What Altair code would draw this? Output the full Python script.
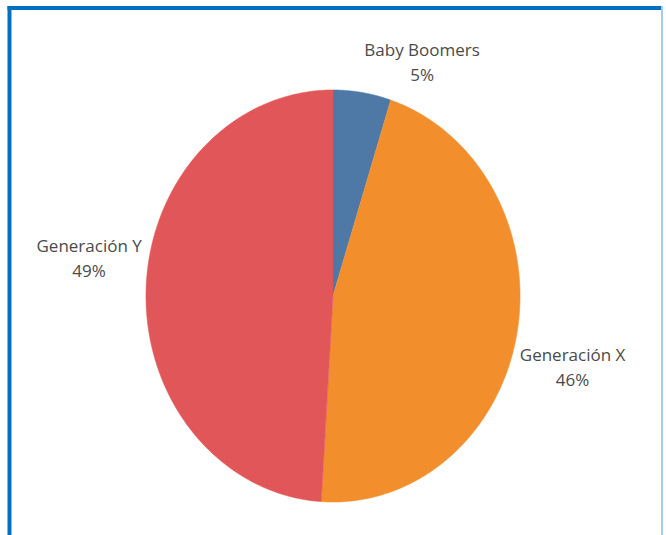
import altair as alt
import pandas as pd

categories = ["Baby Boomers", "Generación X", "Generación Y"]
shares = [5, 46, 49]
order = [1, 2, 3]
colors = ["#4E79A7", "#F28E2B", "#E15759"]

N = 180
df = pd.DataFrame({"cat": categories, "share": shares, "ord": order})
df["label"] = df["cat"] + "\n" + df["share"].astype(str) + "%"
df["steps"] = [list(range(-1, N + 1)) for _ in categories]

CX, CY = 333, 296
cscale = alt.Scale(domain=categories, range=colors)

# elliptical pie (reference is taller than wide) drawn as filled paths
pie = (
    alt.Chart(df)
    .transform_window(cum="sum(share)", sort=[alt.SortField("ord")], frame=[None, 0])
    .transform_joinaggregate(total="sum(share)")
    .transform_flatten(["steps"])
    .transform_calculate(
        frac="((datum.cum - datum.share) + datum.share * max(datum.steps, 0) / %d) / datum.total" % N
    )
    .transform_calculate(
        px="datum.steps < 0 ? 0 : sin(2 * PI * datum.frac)",
        py="datum.steps < 0 ? 0 : cos(2 * PI * datum.frac)",
    )
    .mark_line(strokeWidth=0.6, interpolate="linear")
    .encode(
        x=alt.X("px:Q", scale=alt.Scale(domain=[-1, 1], range=[146, 520]), axis=None),
        y=alt.Y("py:Q", scale=alt.Scale(domain=[-1, 1], range=[502, 90]), axis=None),
        order=alt.Order("steps:Q"),
        detail="cat:N",
        fill=alt.Fill("cat:N", scale=cscale, legend=None),
        stroke=alt.Stroke("cat:N", scale=cscale, legend=None),
    )
)

base = alt.Chart(df).encode(
    theta=alt.Theta("share:Q", stack=True),
    order=alt.Order("ord:Q"),
)

offsets = {"Baby Boomers": (50, 2), "Generación X": (-6, 13), "Generación Y": (6, -41)}
texts = []
for c in categories:
    dx, dy = offsets[c]
    texts.append(
        base.mark_text(radius=250, dx=dx, dy=dy, lineBreak="\n", font="Open Sans",
                       fontSize=17, color="#4a4a4a", align="center", baseline="middle",
                       lineHeight=25)
        .encode(
            text=alt.condition(alt.datum.cat == c, "label:N", alt.value("")),
            x=alt.value(CX), y=alt.value(CY),
        )
    )

one = alt.Chart(pd.DataFrame({"a": [0]}))
frame_left = one.mark_rule(color="#0070C0", strokeWidth=4).encode(
    x=alt.value(9.5), y=alt.value(6), y2=alt.value(535))
frame_top = one.mark_rule(color="#0070C0", strokeWidth=4).encode(
    x=alt.value(7.5), x2=alt.value(662), y=alt.value(8))
frame_right = one.mark_rule(color="#A9CBEA", strokeWidth=2).encode(
    x=alt.value(662), y=alt.value(6), y2=alt.value(535))

chart = alt.layer(pie, *texts, frame_left, frame_top, frame_right).resolve_scale(
    x="independent", y="independent"
).properties(
    width=666, height=535, autosize=alt.AutoSizeParams(type="none"), padding=0,
    background="white"
).configure_view(stroke=None)

chart.save("out.html", embed_options={"renderer": "svg", "actions": False})
